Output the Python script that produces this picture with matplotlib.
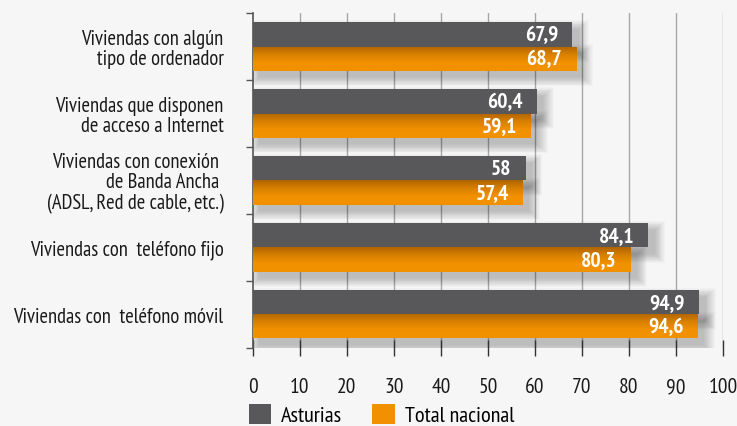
import numpy as np
import matplotlib
matplotlib.use("Agg")
import matplotlib.pyplot as plt
from matplotlib.patches import Rectangle, Patch
from matplotlib.colors import LinearSegmentedColormap

plt.rcParams['font.family'] = ['PT Sans Narrow', 'DejaVu Sans']

categories = [
    "Viviendas con algún\ntipo de ordenador",
    "Viviendas que disponen\nde acceso a Internet",
    "Viviendas con conexión \nde Banda Ancha \n(ADSL, Red de cable, etc.)",
    "Viviendas con  teléfono fijo",
    "Viviendas con  teléfono móvil",
]
asturias = [67.9, 60.4, 58, 84.1, 94.9]
nacional = [68.7, 59.1, 57.4, 80.3, 94.6]
labels_ast = ["67,9", "60,4", "58", "84,1", "94,9"]
labels_nac = ["68,7", "59,1", "57,4", "80,3", "94,6"]

bg = '#f6f6f6'
gray = '#58585a'
orange = '#f29100'
orange_dark = '#b06400'

fig = plt.figure(figsize=(7.37, 4.27), dpi=100, facecolor=bg)
ax = fig.add_axes([0.343, 0.183, 0.638, 0.784], facecolor=bg)

bh = 0.36
centers = np.arange(len(categories)) + 0.5

# gridlines
for gx in range(10, 101, 10):
    ax.axvline(gx, color='#a8a8a8', lw=1.0, zorder=0)

# soft drop shadow, built from stacked translucent rectangles
def shadow(x0, y0, w, h):
    for k in range(12):
        ex = 0.2 * k
        ey = 0.012 * k
        ax.add_patch(Rectangle((x0 + 1.4 - ex, y0 + 0.1 - ey), w + 2 * ex, h + 2 * ey,
                               facecolor='black', edgecolor='none', alpha=0.018, zorder=1))

grad = LinearSegmentedColormap.from_list('og', [orange_dark, '#d88000', orange, orange])
gimg = np.linspace(0, 1, 64).reshape(-1, 1)

for c, va, vn, la, ln in zip(centers, asturias, nacional, labels_ast, labels_nac):
    shadow(0, c - bh, va, bh)
    shadow(0, c, vn, bh)
    ax.barh(c - bh / 2, va, height=bh, color=gray, zorder=3)
    bar = ax.barh(c + bh / 2, vn, height=bh, color=orange, zorder=3)[0]
    im = ax.imshow(gimg, cmap=grad, aspect='auto', extent=(0, vn, c + bh, c),
                   zorder=3.5, interpolation='bilinear')
    im.set_clip_path(bar)
    ax.annotate(la, (va, c - bh / 2), xytext=(-10, 0), textcoords='offset points',
                ha='right', va='center', color='white', fontsize=15.5, fontweight='bold', zorder=5)
    ax.annotate(ln, (vn, c + bh / 2), xytext=(-10, 0), textcoords='offset points',
                ha='right', va='center', color='white', fontsize=15.5, fontweight='bold', zorder=5)

ax.set_xlim(0, 100)
ax.set_ylim(len(categories), 0)

# y axis: ticks at category boundaries, labels at centers
ax.set_yticks(np.arange(len(categories) + 1))
ax.set_yticklabels([])
ax.tick_params(axis='y', direction='out', length=5, width=1, color='#555555')
for c, lab in zip(centers, categories):
    ax.text(-6.2, c + 0.03, lab, ha='right', va='center', fontsize=14.8,
            linespacing=1.12, multialignment='right', color='#1a1a1a')

ax.set_xticks(range(0, 101, 10))
ax.tick_params(axis='x', direction='inout', length=12, width=1, color='#333333',
               labelsize=15.5, pad=15, labelcolor='#1a1a1a')

for s in ['top', 'right', 'bottom']:
    ax.spines[s].set_visible(False)
ax.spines['left'].set_color('#555555')
ax.spines['left'].set_linewidth(1.2)

handles = [Patch(facecolor=gray, label='Asturias'), Patch(facecolor=orange, label='Total nacional')]
fig.legend(handles=handles, loc='upper left', bbox_to_anchor=(0.338, 0.052), ncol=2,
           frameon=False, fontsize=16, handlelength=1.0, handleheight=1.0,
           handletextpad=0.45, columnspacing=1.35, borderpad=0, borderaxespad=0)

fig.savefig('out.png', dpi=100, facecolor=bg)
